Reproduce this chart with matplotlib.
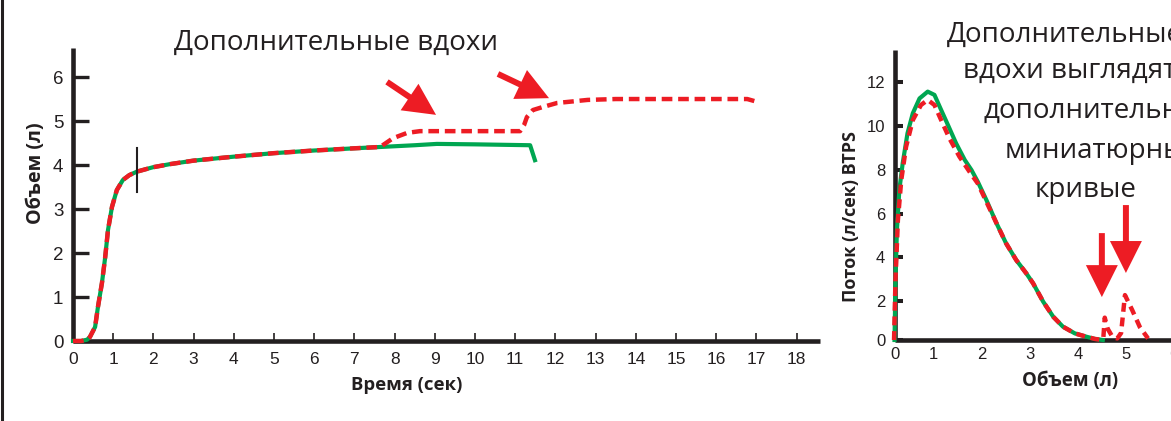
import matplotlib
matplotlib.use("Agg")
from matplotlib import pyplot as plt
from matplotlib.patches import FancyArrowPatch, ArrowStyle
from matplotlib.lines import Line2D

W, H = 1171, 421
RED = '#ED1C24'
GREEN = '#00A651'
INK = '#231F20'

# volume-time curve (left panel), seconds / litres
t_green = [0, 0.2, 0.35, 0.42, 0.55, 0.62, 0.72, 0.80, 0.87, 0.97, 1.09, 1.24, 1.40, 1.59,
           1.99, 2.41, 3, 4, 5, 6, 7, 7.64, 8.5, 9.05, 10, 11.37, 11.49]
v_green = [0, 0, 0.03, 0.09, 0.32, 0.77, 1.32, 1.90, 2.52, 3.05, 3.43, 3.66, 3.77, 3.85,
           3.95, 4.02, 4.10, 4.19, 4.27, 4.33, 4.38, 4.41, 4.45, 4.48, 4.47, 4.45, 4.11]
t_red = [0, 0.2, 0.35, 0.42, 0.55, 0.62, 0.72, 0.80, 0.87, 0.97, 1.09, 1.24, 1.40, 1.59,
         1.99, 2.41, 3, 4, 5, 6, 7, 7.64, 7.96, 8.31, 8.63, 11.12, 11.22, 11.29, 11.44,
         11.69, 12.04, 12.8, 13.5, 16.77, 17.04]
v_red = [0, 0, 0.03, 0.09, 0.32, 0.77, 1.32, 1.90, 2.52, 3.05, 3.43, 3.66, 3.77, 3.85,
         3.95, 4.02, 4.10, 4.19, 4.27, 4.33, 4.38, 4.41, 4.61, 4.73, 4.77, 4.77, 4.91, 5.09,
         5.25, 5.32, 5.41, 5.48, 5.50, 5.50, 5.43]
bev_t = 1.59            # back-extrapolation marker
bev_v = (3.39, 4.39)

# flow-volume curve (right panel), litres / l/s
fv_v_green = [0.19, 0.21, 0.24, 0.29, 0.36, 0.46, 0.57, 0.71, 0.88, 1.02, 1.16, 1.30, 1.47,
              1.65, 1.79, 1.92, 2.10, 2.31, 2.51, 2.72, 2.93, 3.07, 3.28, 3.49, 3.69, 3.94,
              4.18, 4.35, 4.52]
fv_f_green = [0.23, 2.97, 5.25, 7.08, 8.30, 9.67, 10.58, 11.26, 11.57, 11.42, 10.73, 10.05,
              9.21, 8.45, 7.99, 7.46, 6.62, 5.56, 4.64, 3.88, 3.27, 2.82, 1.98, 1.29, 0.84,
              0.53, 0.38, 0.28, 0.23]
fv_v_red = [0.18, 0.21, 0.26, 0.33, 0.43, 0.57, 0.74, 0.88, 1.02, 1.16, 1.33, 1.54, 1.75,
            1.92, 2.10, 2.31, 2.51, 2.72, 2.93, 3.07, 3.28, 3.49, 3.69, 3.94, 4.18, 4.35,
            4.45, 4.53, 4.56, 4.62, 4.72, 4.82, 4.90, 4.98, 5.13, 5.29, 5.46]
fv_f_red = [0.23, 2.97, 5.70, 7.53, 9.05, 10.27, 10.96, 11.19, 10.96, 10.27, 9.44, 8.60, 7.91,
            7.38, 6.54, 5.56, 4.64, 3.88, 3.27, 2.82, 1.98, 1.29, 0.84, 0.53, 0.38, 0.28,
            0.25, 0.30, 1.25, 0.75, 0.37, 0.30, 0.55, 2.28, 1.60, 0.82, 0.30]

vt_xticks = list(range(0, 19))
vt_yticks = list(range(0, 7))
fv_xtick_labels = ['0', '1', '2', '3', '4', '5', '6']
fv_ytick_labels = ['0', '2', '4', '6', '8', '10', '12']

title_left = 'Дополнительные вдохи'
note_right = ['Дополнительные', 'вдохи выглядят', 'дополнительные', 'миниатюрные', 'кривые']
note_left_px = [947, 963, 983, 1005, 1035]   # left edges of the note lines
note_base_px = [42, 78, 118, 158, 197]       # baselines of the note lines


def fx(px):
    return px / W


def fy(py):
    return 1 - py / H


def style_axes(ax):
    for s in ['top', 'right']:
        ax.spines[s].set_visible(False)
    for s in ['left', 'bottom']:
        ax.spines[s].set_linewidth(3.3)
        ax.spines[s].set_color(INK)
        ax.spines[s].set_capstyle('butt')


def arrow(ax, tail, tip):
    st = ArrowStyle.Simple(head_length=23, head_width=23, tail_width=4.3)
    ax.add_patch(FancyArrowPatch(tail, tip, arrowstyle=st, mutation_scale=1, color=RED,
                                 lw=0, shrinkA=0, shrinkB=0, clip_on=False, zorder=5))


fig = plt.figure(figsize=(W / 100, H / 100), dpi=100)

# ---- left: volume-time
ax1 = fig.add_axes([fx(73), fy(341), fx(820) - fx(73), fy(48) - fy(341)])
style_axes(ax1)
ax1.set_xlim(0, 18.58)
ax1.set_ylim(0, 6.66)
ax1.plot(t_green, v_green, color=GREEN, lw=3, solid_joinstyle='round', clip_on=False, zorder=3)
ax1.plot(t_red, v_red, color=RED, lw=3.2, dashes=(2.4, 1.3), clip_on=False, zorder=4)
ax1.plot([bev_t, bev_t], bev_v, color=INK, lw=1.5, zorder=5)
ax1.set_xticks(vt_xticks)
ax1.set_yticks(vt_yticks)
ax1.tick_params(axis='y', direction='in', length=11.5, width=2.4, color=INK, pad=7,
                labelsize=13.5, labelcolor=INK)
ax1.tick_params(axis='x', direction='in', length=5.8, width=1.2, color=INK, pad=8,
                labelsize=12.5, labelcolor=INK)
for lab in ax1.get_xticklabels() + ax1.get_yticklabels():
    lab.set_fontfamily('Liberation Sans')
arrow(ax1, (7.81, 5.89), (9.03, 5.14))
arrow(ax1, (10.57, 6.07), (11.84, 5.52))

fig.text(fx(336), fy(50), title_left, ha='center', va='baseline', fontsize=20,
         family='Open Sans', color=INK)
fig.text(fx(407), fy(390), 'Время (сек)', ha='center', va='baseline', fontsize=13.3,
         family='Open Sans', weight='bold', color=INK)
fig.text(fx(36), fy(173), 'Объем (л)', ha='center', va='center', rotation=90,
         fontsize=14.2, family='Open Sans', weight='bold', color=INK)

# ---- right: flow-volume
ax2 = fig.add_axes([fx(895), fy(340), fx(1200) - fx(895), fy(50) - fy(340)])
style_axes(ax2)
ax2.set_xlim(0.2, 6.54)
ax2.set_ylim(0.23, 13.47)
ax2.plot(fv_v_green, fv_f_green, color=GREEN, lw=3, clip_on=False, zorder=3)
ax2.plot(fv_v_red, fv_f_red, color=RED, lw=3.2, dashes=(2.0, 1.3), clip_on=False, zorder=4)
ax2.set_xticks([0.2, 1, 2, 3, 4, 5, 6], fv_xtick_labels)
ax2.set_yticks([0.23, 2, 4, 6, 8, 10, 12], fv_ytick_labels)
ax2.tick_params(axis='x', length=0, pad=5, labelsize=12, labelcolor=INK)
ax2.tick_params(axis='y', direction='in', length=5.8, width=2.9, color=INK, pad=7,
                labelsize=12, labelcolor=INK)
for lab in ax2.get_xticklabels() + ax2.get_yticklabels():
    lab.set_fontfamily('Liberation Sans')
arrow(ax2, (4.5, 5.11), (4.5, 2.19))
arrow(ax2, (5.0, 6.39), (5.0, 3.29))

for line, lx, by in zip(note_right, note_left_px, note_base_px):
    fig.text(fx(lx), fy(by), line, ha='left', va='baseline', fontsize=20,
             family='Open Sans', color=INK)
fig.text(fx(1070), fy(386), 'Объем (л)', ha='center', va='baseline', fontsize=13.4,
         family='Open Sans', weight='bold', color=INK)
fig.text(fx(851), fy(216), 'Поток (л/сек) BTPS', ha='center', va='center', rotation=90,
         fontsize=13, family='Open Sans', weight='bold', color=INK)

# black border on the far left
fig.add_artist(Line2D([fx(2), fx(2)], [0, 1], color=INK, lw=2.2))

fig.savefig('out.png', dpi=100)
